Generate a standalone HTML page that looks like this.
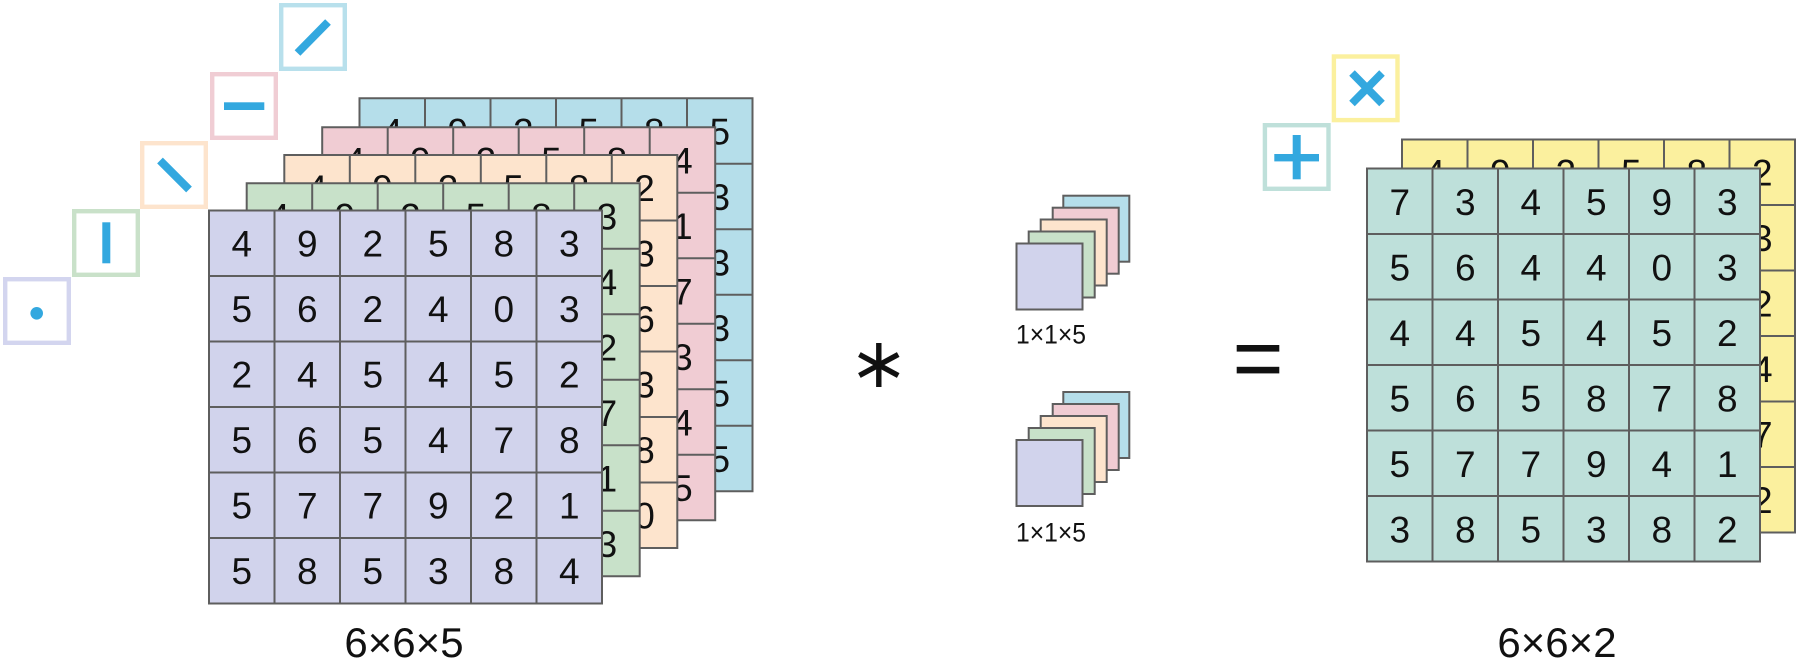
<!DOCTYPE html>
<html>
<head>
<meta charset="utf-8">
<style>
  html, body { margin: 0; padding: 0; background: #ffffff; }
  svg { display: block; }
  .d { font-family: "Liberation Sans", sans-serif; font-size: 37px; fill: #111; text-anchor: middle; }
  .lb { font-family: "Liberation Sans", sans-serif; font-size: 42px; fill: #111; text-anchor: middle; }
  .kl { font-family: "Liberation Sans", sans-serif; font-size: 27px; fill: #111; }
</style>
</head>
<body>
<svg width="1800" height="670" viewBox="0 0 1800 670" xmlns="http://www.w3.org/2000/svg">
  <defs>
    <path id="gl" d="M0 0H393V393H0Z M65.5 0V393 M131 0V393 M196.5 0V393 M262 0V393 M327.5 0V393 M0 65.5H393 M0 131H393 M0 196.5H393 M0 262H393 M0 327.5H393" fill="none" stroke="#5e5e5e" stroke-width="2"/>
  </defs>

  <!-- ===== Left icon boxes ===== -->
  <g fill="none" stroke-width="4.4">
    <rect x="5.2" y="279.2" width="63.6" height="63.6" stroke="#d3d5ef"/>
    <rect x="74.2" y="211.2" width="63.6" height="63.6" stroke="#c9e1c9"/>
    <rect x="142.2" y="143.2" width="63.6" height="63.6" stroke="#fde4cd"/>
    <rect x="212.2" y="74.2" width="63.6" height="63.6" stroke="#f0cdd4"/>
    <rect x="281.2" y="5.2" width="63.6" height="63.6" stroke="#b8e0ec"/>
  </g>
  <g fill="#33a8df" stroke="#33a8df">
    <circle cx="36.7" cy="313.3" r="6.3" stroke="none"/>
    <rect x="102.3" y="222.3" width="8" height="41" stroke="none"/>
    <line x1="160" y1="160.5" x2="189" y2="189.5" stroke-width="8"/>
    <rect x="224" y="102.3" width="40.3" height="7.7" stroke="none"/>
    <line x1="297.5" y1="53" x2="328" y2="22" stroke-width="8"/>
  </g>

  <!-- ===== Left stack ===== -->
  <!-- blue -->
  <g transform="translate(359.5,98.3)">
    <rect width="393" height="393" fill="#b5deea"/>
    <use href="#gl"/>
    <text class="d" x="32.75" y="46">4</text>
    <text class="d" x="98.25" y="46">9</text>
    <text class="d" x="163.75" y="46">2</text>
    <text class="d" x="229.25" y="46">5</text>
    <text class="d" x="294.75" y="46">8</text>
    <text class="d" x="360.25" y="46">5</text>
    <text class="d" x="360.25" y="111.5">3</text>
    <text class="d" x="360.25" y="177">3</text>
    <text class="d" x="360.25" y="242.5">3</text>
    <text class="d" x="360.25" y="308">5</text>
    <text class="d" x="360.25" y="373.5">5</text>
  </g>
  <!-- pink -->
  <g transform="translate(322.2,127.3)">
    <rect width="393" height="393" fill="#f0ccd3"/>
    <use href="#gl"/>
    <text class="d" x="32.75" y="46">4</text>
    <text class="d" x="98.25" y="46">9</text>
    <text class="d" x="163.75" y="46">2</text>
    <text class="d" x="229.25" y="46">5</text>
    <text class="d" x="294.75" y="46">8</text>
    <text class="d" x="360.25" y="46">4</text>
    <text class="d" x="360.25" y="111.5">1</text>
    <text class="d" x="360.25" y="177">7</text>
    <text class="d" x="360.25" y="242.5">3</text>
    <text class="d" x="360.25" y="308">4</text>
    <text class="d" x="360.25" y="373.5">5</text>
  </g>
  <!-- peach -->
  <g transform="translate(284.3,155)">
    <rect width="393" height="393" fill="#fde4cd"/>
    <use href="#gl"/>
    <text class="d" x="32.75" y="46">4</text>
    <text class="d" x="98.25" y="46">9</text>
    <text class="d" x="163.75" y="46">2</text>
    <text class="d" x="229.25" y="46">5</text>
    <text class="d" x="294.75" y="46">8</text>
    <text class="d" x="360.25" y="46">2</text>
    <text class="d" x="360.25" y="111.5">3</text>
    <text class="d" x="360.25" y="177">6</text>
    <text class="d" x="360.25" y="242.5">3</text>
    <text class="d" x="360.25" y="308">8</text>
    <text class="d" x="360.25" y="373.5">0</text>
  </g>
  <!-- green -->
  <g transform="translate(246.7,183.3)">
    <rect width="393" height="393" fill="#c8e1c9"/>
    <use href="#gl"/>
    <text class="d" x="32.75" y="46">4</text>
    <text class="d" x="98.25" y="46">9</text>
    <text class="d" x="163.75" y="46">2</text>
    <text class="d" x="229.25" y="46">5</text>
    <text class="d" x="294.75" y="46">8</text>
    <text class="d" x="360.25" y="46">3</text>
    <text class="d" x="360.25" y="111.5">4</text>
    <text class="d" x="360.25" y="177">2</text>
    <text class="d" x="360.25" y="242.5">7</text>
    <text class="d" x="360.25" y="308">1</text>
    <text class="d" x="360.25" y="373.5">3</text>
  </g>
  <!-- purple front -->
  <g transform="translate(209,210.5)">
    <rect width="393" height="393" fill="#d1d3ec"/>
    <use href="#gl"/>
    <text class="d" x="32.75" y="46">4</text><text class="d" x="98.25" y="46">9</text><text class="d" x="163.75" y="46">2</text><text class="d" x="229.25" y="46">5</text><text class="d" x="294.75" y="46">8</text><text class="d" x="360.25" y="46">3</text>
    <text class="d" x="32.75" y="111.5">5</text><text class="d" x="98.25" y="111.5">6</text><text class="d" x="163.75" y="111.5">2</text><text class="d" x="229.25" y="111.5">4</text><text class="d" x="294.75" y="111.5">0</text><text class="d" x="360.25" y="111.5">3</text>
    <text class="d" x="32.75" y="177">2</text><text class="d" x="98.25" y="177">4</text><text class="d" x="163.75" y="177">5</text><text class="d" x="229.25" y="177">4</text><text class="d" x="294.75" y="177">5</text><text class="d" x="360.25" y="177">2</text>
    <text class="d" x="32.75" y="242.5">5</text><text class="d" x="98.25" y="242.5">6</text><text class="d" x="163.75" y="242.5">5</text><text class="d" x="229.25" y="242.5">4</text><text class="d" x="294.75" y="242.5">7</text><text class="d" x="360.25" y="242.5">8</text>
    <text class="d" x="32.75" y="308">5</text><text class="d" x="98.25" y="308">7</text><text class="d" x="163.75" y="308">7</text><text class="d" x="229.25" y="308">9</text><text class="d" x="294.75" y="308">2</text><text class="d" x="360.25" y="308">1</text>
    <text class="d" x="32.75" y="373.5">5</text><text class="d" x="98.25" y="373.5">8</text><text class="d" x="163.75" y="373.5">5</text><text class="d" x="229.25" y="373.5">3</text><text class="d" x="294.75" y="373.5">8</text><text class="d" x="360.25" y="373.5">4</text>
  </g>
  <text class="lb" x="404" y="657">6×6×5</text>

  <!-- ===== Asterisk ===== -->
  <g stroke="#111" stroke-width="5.4" stroke-linecap="butt">
    <line x1="878.8" y1="343" x2="878.8" y2="387"/>
    <line x1="859.4" y1="354.5" x2="898.2" y2="375.5"/>
    <line x1="859.4" y1="375.5" x2="898.2" y2="354.5"/>
  </g>

  <!-- ===== Kernels ===== -->
  <g stroke="#5e5e5e" stroke-width="2">
    <rect x="1063.3" y="195.7" width="66" height="66" fill="#b5deea"/>
    <rect x="1052.7" y="207.7" width="66" height="66" fill="#f0ccd3"/>
    <rect x="1040.7" y="219.5" width="66" height="66" fill="#fde4cd"/>
    <rect x="1028.7" y="231.5" width="66" height="66" fill="#c8e1c9"/>
    <rect x="1016.5" y="243.5" width="66" height="66" fill="#d1d3ec"/>

    <rect x="1063.3" y="392" width="66" height="66" fill="#b5deea"/>
    <rect x="1052.7" y="404" width="66" height="66" fill="#f0ccd3"/>
    <rect x="1040.7" y="416" width="66" height="66" fill="#fde4cd"/>
    <rect x="1028.7" y="428" width="66" height="66" fill="#c8e1c9"/>
    <rect x="1016.5" y="440" width="66" height="66" fill="#d1d3ec"/>
  </g>
  <text class="kl" x="1016" y="343.3" textLength="70" lengthAdjust="spacingAndGlyphs">1×1×5</text>
  <text class="kl" x="1016" y="541.7" textLength="70" lengthAdjust="spacingAndGlyphs">1×1×5</text>

  <!-- ===== Equals ===== -->
  <rect x="1236.7" y="345" width="42.6" height="6.6" fill="#111"/>
  <rect x="1236.7" y="366.8" width="42.6" height="6.6" fill="#111"/>

  <!-- ===== Right icon boxes ===== -->
  <g fill="none" stroke-width="4.4">
    <rect x="1333.9" y="56.5" width="63.6" height="63.6" stroke="#fbf09e"/>
    <rect x="1264.9" y="125.2" width="63.6" height="63.6" stroke="#bfe0da"/>
  </g>
  <g stroke="#33a8df" stroke-width="7.8">
    <line x1="1352" y1="73" x2="1382" y2="103.5"/>
    <line x1="1352" y1="103.5" x2="1382" y2="73"/>
  </g>
  <rect x="1274.3" y="154" width="44.7" height="7.4" fill="#33a8df"/>
  <rect x="1292.7" y="135" width="8" height="44.3" fill="#33a8df"/>

  <!-- ===== Right stack ===== -->
  <g transform="translate(1402,139.5)">
    <rect width="393" height="393" fill="#fbf09e"/>
    <use href="#gl"/>
    <text class="d" x="32.75" y="46">4</text>
    <text class="d" x="98.25" y="46">9</text>
    <text class="d" x="163.75" y="46">2</text>
    <text class="d" x="229.25" y="46">5</text>
    <text class="d" x="294.75" y="46">8</text>
    <text class="d" x="360.25" y="46">2</text>
    <text class="d" x="360.25" y="111.5">3</text>
    <text class="d" x="360.25" y="177">2</text>
    <text class="d" x="360.25" y="242.5">4</text>
    <text class="d" x="360.25" y="308">7</text>
    <text class="d" x="360.25" y="373.5">2</text>
  </g>
  <g transform="translate(1367,168.5)">
    <rect width="393" height="393" fill="#bee0da"/>
    <use href="#gl"/>
    <text class="d" x="32.75" y="46.5">7</text><text class="d" x="98.25" y="46.5">3</text><text class="d" x="163.75" y="46.5">4</text><text class="d" x="229.25" y="46.5">5</text><text class="d" x="294.75" y="46.5">9</text><text class="d" x="360.25" y="46.5">3</text>
    <text class="d" x="32.75" y="112">5</text><text class="d" x="98.25" y="112">6</text><text class="d" x="163.75" y="112">4</text><text class="d" x="229.25" y="112">4</text><text class="d" x="294.75" y="112">0</text><text class="d" x="360.25" y="112">3</text>
    <text class="d" x="32.75" y="177.5">4</text><text class="d" x="98.25" y="177.5">4</text><text class="d" x="163.75" y="177.5">5</text><text class="d" x="229.25" y="177.5">4</text><text class="d" x="294.75" y="177.5">5</text><text class="d" x="360.25" y="177.5">2</text>
    <text class="d" x="32.75" y="243">5</text><text class="d" x="98.25" y="243">6</text><text class="d" x="163.75" y="243">5</text><text class="d" x="229.25" y="243">8</text><text class="d" x="294.75" y="243">7</text><text class="d" x="360.25" y="243">8</text>
    <text class="d" x="32.75" y="308.5">5</text><text class="d" x="98.25" y="308.5">7</text><text class="d" x="163.75" y="308.5">7</text><text class="d" x="229.25" y="308.5">9</text><text class="d" x="294.75" y="308.5">4</text><text class="d" x="360.25" y="308.5">1</text>
    <text class="d" x="32.75" y="374">3</text><text class="d" x="98.25" y="374">8</text><text class="d" x="163.75" y="374">5</text><text class="d" x="229.25" y="374">3</text><text class="d" x="294.75" y="374">8</text><text class="d" x="360.25" y="374">2</text>
  </g>
  <text class="lb" x="1557" y="657">6×6×2</text>
</svg>
</body>
</html>
